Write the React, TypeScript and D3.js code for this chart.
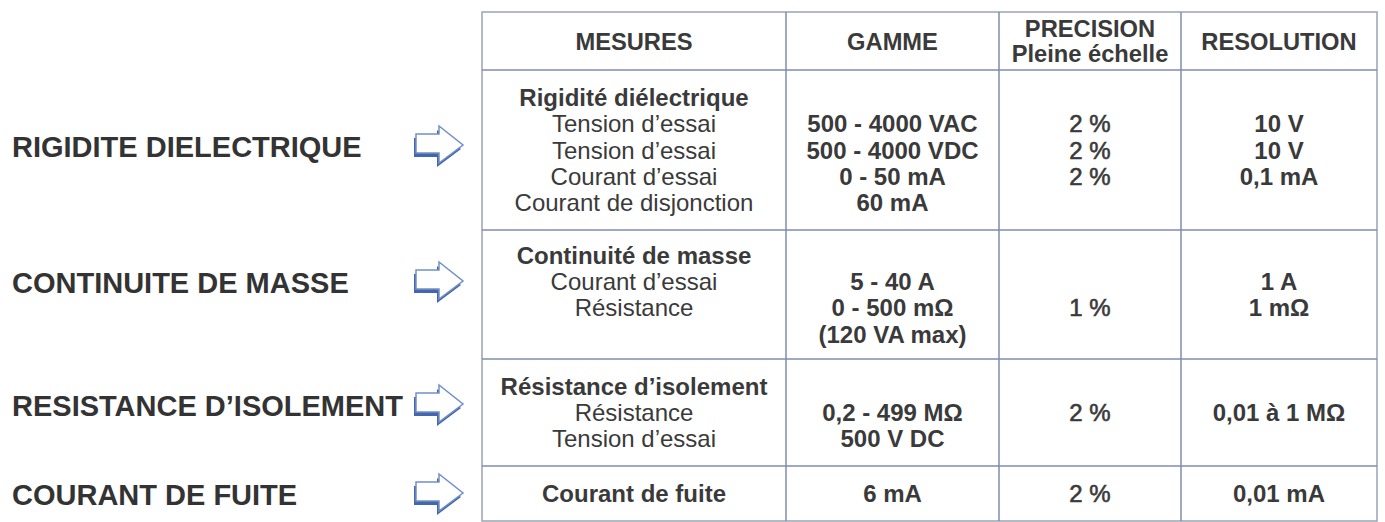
import React from "react";
import * as d3 from "d3";

const width = 1385;
const height = 522;

// left hand section labels
const sections = [
  "RIGIDITE DIELECTRIQUE",
  "CONTINUITE DE MASSE",
  "RESISTANCE D’ISOLEMENT",
  "COURANT DE FUITE",
];

const headers = [["MESURES"], ["GAMME"], ["PRECISION", "Pleine échelle"], ["RESOLUTION"]];

// first line of each "mesures" cell is the bold title
const mesuresTitles = [
  "Rigidité diélectrique",
  "Continuité de masse",
  "Résistance d’isolement",
  "Courant de fuite",
];
const mesuresLines = [
  ["Tension d’essai", "Tension d’essai", "Courant d’essai", "Courant de disjonction"],
  ["Courant d’essai", "Résistance"],
  ["Résistance", "Tension d’essai"],
  [],
];
// "" = empty line slot
const gamme = [
  ["", "500 - 4000 VAC", "500 - 4000 VDC", "0 - 50 mA", "60 mA"],
  ["", "5 - 40 A", "0 - 500 mΩ", "(120 VA max)"],
  ["", "0,2 - 499 MΩ", "500 V DC"],
  ["6 mA"],
];
const precision = [
  ["", "2 %", "2 %", "2 %"],
  ["", "", "1 %"],
  ["", "2 %"],
  ["2 %"],
];
const resolution = [
  ["", "10 V", "10 V", "0,1 mA"],
  ["", "1 A", "1 mΩ"],
  ["", "0,01 à 1 MΩ"],
  ["0,01 mA"],
];

// layout
const colEdges = [482, 786, 999, 1181, 1377];
const rowEdges = [12, 70, 230, 359, 466, 521];
const sectionY = [147, 283, 406, 495];
const lineH = 26.3;
const font = "'Liberation Sans', Arial, Helvetica, sans-serif";
const textColor = "#3a3a3a";
const lineColor = "#7f8db0";

const Arrow = ({ y }: { y: number }) => {
  const x0 = 416;
  const pts: [number, number][] = [
    [x0, y - 13],
    [x0 + 23, y - 13],
    [x0 + 23, y - 21],
    [x0 + 47, y - 2],
    [x0 + 23, y + 16],
    [x0 + 23, y + 6],
    [x0, y + 6],
  ];
  const line = d3.line();
  const shadow = pts.map(([px, py]) => [px - 2, py + 4] as [number, number]);
  return (
    <g>
      <path d={line(shadow) + "Z"} fill="#4466ad" />
      <path d={line(pts) + "Z"} fill="#fff" stroke="#7190c8" strokeWidth={1.5} strokeLinejoin="miter" />
    </g>
  );
};

export default function App() {
  const x = d3.scaleOrdinal<number, number>().domain([0, 1, 2, 3]).range(
    d3.range(4).map((i) => (colEdges[i] + colEdges[i + 1]) / 2)
  );

  const columns = [
    mesuresTitles.map((t, i) => [t, ...mesuresLines[i]]),
    gamme,
    precision,
    resolution,
  ];

  const cells: JSX.Element[] = [];
  for (let r = 0; r < 4; r++) {
    const top = rowEdges[r + 1];
    const bottom = rowEdges[r + 2];
    const mid = (top + bottom) / 2;
    const slots = d3.max(columns, (c) => c[r].length) as number;
    const y = d3
      .scaleLinear()
      .domain([0, Math.max(1, slots - 1)])
      .range([mid - ((slots - 1) * lineH) / 2, mid - ((slots - 1) * lineH) / 2 + Math.max(1, slots - 1) * lineH]);
    columns.forEach((col, c) => {
      col[r].forEach((txt, s) => {
        if (!txt) return;
        const bold = c === 1 || c === 3 || (c === 0 && s === 0);
        cells.push(
          <text
            key={`${r}-${c}-${s}`}
            x={x(c)}
            y={y(s)}
            dy="0.36em"
            textAnchor="middle"
            fontWeight={bold ? 700 : 400}
            fontSize={24}
            stroke={c === 2 ? textColor : "none"}
            strokeWidth={c === 2 ? 0.6 : 0}
          >
            {txt}
          </text>
        );
      });
    });
  }

  return (
    <svg
      width={width}
      height={height}
      style={{ position: "absolute", left: 0, top: 0, background: "#fff" }}
      fontFamily={font}
      fill={textColor}
    >
      {/* grid */}
      <rect
        x={colEdges[0]}
        y={rowEdges[0]}
        width={colEdges[4] - colEdges[0]}
        height={rowEdges[5] - rowEdges[0]}
        fill="none"
        stroke="#9aa3b5"
        strokeWidth={1.5}
      />
      {colEdges.slice(1, 4).map((cx) => (
        <line key={cx} x1={cx} x2={cx} y1={rowEdges[0]} y2={rowEdges[5]} stroke={lineColor} strokeWidth={1.5} />
      ))}
      {rowEdges.slice(1, 5).map((ry) => (
        <line key={ry} x1={colEdges[0]} x2={colEdges[4]} y1={ry} y2={ry} stroke={lineColor} strokeWidth={1.5} />
      ))}

      {/* headers */}
      {headers.map((h, c) =>
        h.map((t, i) => (
          <text
            key={`h${c}${i}`}
            x={x(c)}
            y={(rowEdges[0] + rowEdges[1]) / 2 + (i - (h.length - 1) / 2) * 25}
            dy="0.36em"
            textAnchor="middle"
            fontWeight={700}
            fontSize={23.7}
          >
            {t}
          </text>
        ))
      )}

      {cells}

      {/* section labels */}
      {sections.map((s, i) => (
        <g key={s}>
          <text x={12} y={sectionY[i]} dy="0.36em" fontWeight={700} fontSize={29} fill="#333">
            {s}
          </text>
          <Arrow y={sectionY[i]} />
        </g>
      ))}
    </svg>
  );
}
